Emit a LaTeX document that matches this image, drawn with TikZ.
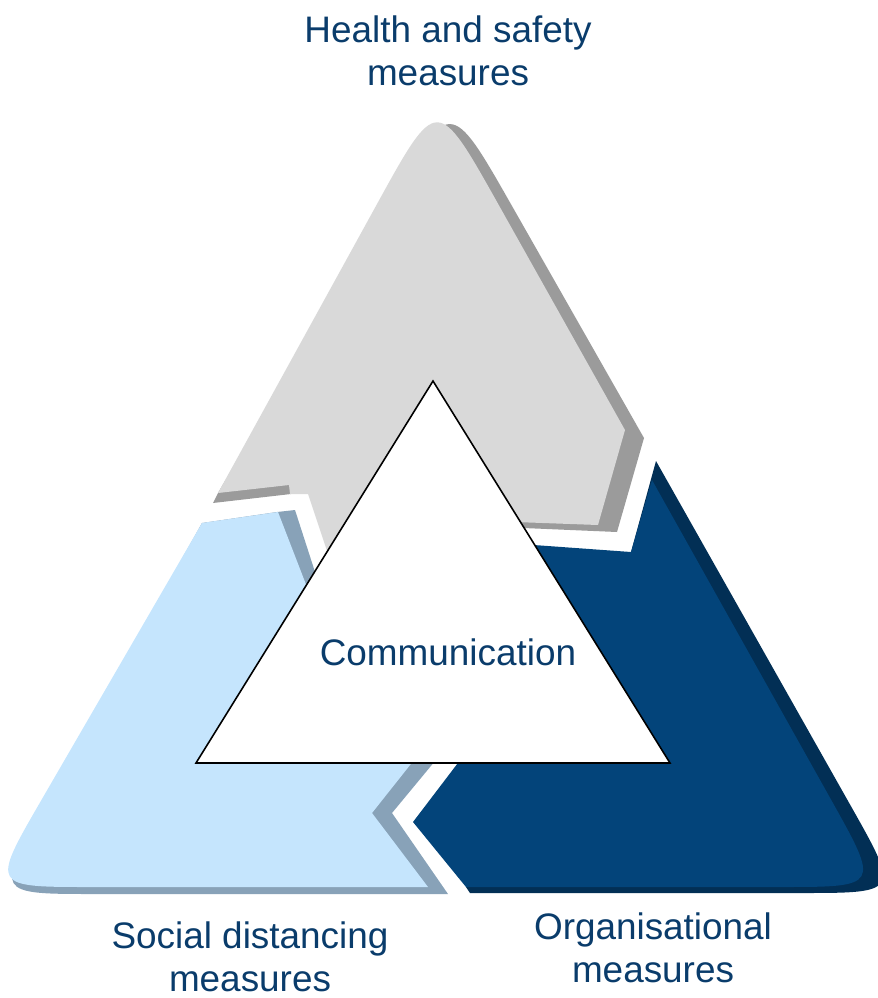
\documentclass[tikz,border=0pt]{standalone}
\usepackage{fontspec}
\setmainfont{Liberation Sans}
\usetikzlibrary{calc}

\begin{document}
\begin{tikzpicture}[x=0.02cm, y=-0.02cm,
    caption/.style={text=txtcolor, align=center, font=\fontsize{21pt}{24.5pt}\selectfont},
    innertri/.style={fill=white, draw=black, line width=0.9pt, line join=miter}]
    % Define colors
    \definecolor{graymain}{RGB}{217, 217, 217}
    \definecolor{grayshadow}{RGB}{155, 155, 155}
    \definecolor{bluemain}{RGB}{197, 229, 253}
    \definecolor{blueshadow}{RGB}{136, 162, 184}
    \definecolor{navymain}{RGB}{3, 68, 122}
    \definecolor{navyshadow}{RGB}{2, 47, 85}
    \definecolor{txtcolor}{RGB}{10, 60, 107}

    \useasboundingbox (0,0) rectangle (878,998);

    % Corner points of the three segments
    \coordinate (gA) at (437,95);
    \coordinate (gL) at (218,493);
    \coordinate (gT) at (625,430);
    \coordinate (gC) at (598,525);
    \coordinate (gsA) at (450,97);
    \coordinate (gsT) at (644,438);
    \coordinate (gsC) at (617,532);

    \coordinate (bT) at (202,523);
    \coordinate (bN) at (278,512);
    \coordinate (bK) at (372,813);
    \coordinate (bR) at (428,887);
    \coordinate (bL) at (-9,887);
    \coordinate (bsK) at (392,813);
    \coordinate (bsR) at (448,894);
    \coordinate (bsL) at (-5,894);

    \coordinate (dT) at (652,480);
    \coordinate (dR) at (880,887);
    \coordinate (dB) at (466,887);
    \coordinate (dK) at (413,822);
    \coordinate (dN) at (631,552);
    \coordinate (dsT) at (656,461);
    \coordinate (dsR) at (900,893);
    \coordinate (dsB) at (470,893);

    % Health and safety segment
    \fill[grayshadow] (213,503) -- (291,494) -- (291,487) -- (340,500) -- (500,527)
        -- (gsC) -- (gsT) -- ($(gsA)!2.5cm!(gsT)$) .. controls (gsA) .. ($(gsA)!2.5cm!(gL)$)
        -- (gL) -- cycle;
    \fill[graymain] (gL) -- (289,485) -- (290,494) -- (308,494) -- (330,560) -- (500,560)
        -- (515,522) -- (gC) -- (gT) -- ($(gA)!2.5cm!(gT)$) .. controls (gA) .. ($(gA)!2.5cm!(gL)$)
        -- cycle;

    % Social distancing segment
    \fill[blueshadow] (295,510) -- (316,575) -- (330,620) -- (440,755) -- (bsK) -- (bsR)
        -- ($(bsL)!2cm!(bsR)$) .. controls (bsL) .. ($(bsL)!2cm!(bT)$)
        -- (bT) -- (277,512) -- cycle;
    \fill[bluemain] (bT) -- (bN) -- (312,600) -- (418,755) -- (bK) -- (bR)
        -- ($(bL)!2cm!(bR)$) .. controls (bL) .. ($(bL)!2cm!(bT)$) -- cycle;

    % Organisational segment
    \fill[navyshadow] (dsT) -- ($(dsR)!2cm!(dsT)$) .. controls (dsR) .. ($(dsR)!2cm!(dsB)$)
        -- (dsB) -- (dB) -- (600,700) -- (dN) -- cycle;
    \fill[navymain] (dT) -- ($(dR)!2cm!(dT)$) .. controls (dR) .. ($(dR)!2cm!(dB)$)
        -- (dB) -- (dK) -- (464,755) -- (520,544) -- (dN) -- cycle;

    % Inner triangle
    \coordinate (iA) at (433,381);
    \coordinate (iL) at (196,763);
    \coordinate (iR) at (670,763);
    \draw[innertri] (iA) -- (iL) -- (iR) -- cycle;

    % Labels
    \node[caption] (comm) at (448,652) {Communication};
    \node[caption] (health) at (448,51) {Health and safety\\measures};
    \node[caption] (social) at (250,957) {Social distancing\\measures};
    \node[caption] (organ) at (653,948) {Organisational\\measures};
\end{tikzpicture}
\end{document}
